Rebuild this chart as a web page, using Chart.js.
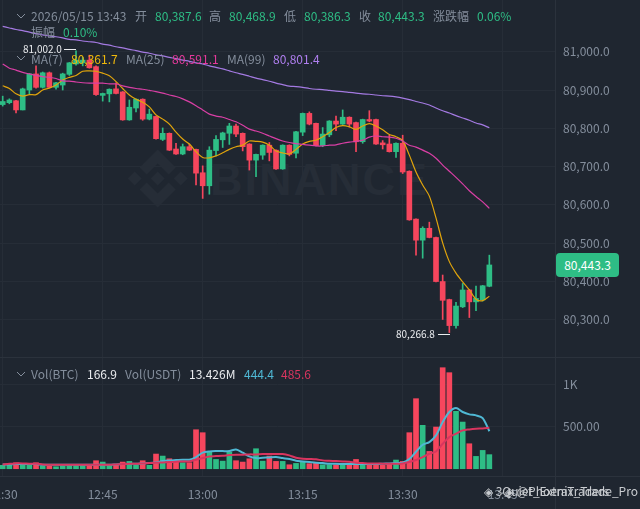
<!DOCTYPE html>
<html>
<head>
<meta charset="utf-8">
<script src="https://cdn.jsdelivr.net/npm/chart.js@4/dist/chart.umd.js"></script>
<style>
html, body { margin: 0; padding: 0; background: #1f2630; overflow: hidden; }
#page { position: relative; width: 640px; height: 509px; overflow: hidden; font-family: "Noto Sans CJK SC", "Noto Sans", sans-serif; }
canvas { position: absolute; left: 0; }
#mainChart { top: 0; }
#volChart { top: 358px; }
.t { position: absolute; font-size: 12px; line-height: 18px; white-space: nowrap; color: #848e9c; }
.line { position: absolute; background: #2b323c; }
.dash { position: absolute; height: 1px; background: #eaecef; }
</style>
</head>
<body>
<div id="page">
  <svg width="640" height="509" style="position:absolute;left:0;top:0">
    <g fill="#262d37" transform="translate(157.7 178.5)">
      <polygon points="0,-29 18,-11 11,-4 0,-15 -11,-4 -18,-11"/>
      <polygon points="0,29 18,11 11,4 0,15 -11,4 -18,11"/>
      <polygon points="0,-7 7,0 0,7 -7,0"/>
      <polygon points="-23,-7 -16,0 -23,7 -30,0"/>
      <polygon points="23,-7 30,0 23,7 16,0"/>
    </g>
    <text x="210" y="195" fill="#262d37" font-family="Liberation Sans" font-weight="bold" font-size="45" textLength="217" lengthAdjust="spacing">BINANCE</text>
  </svg>
  <canvas id="mainChart" width="640" height="357"></canvas>
  <canvas id="volChart" width="640" height="151"></canvas>
  <div class="line" style="left:0;top:357px;width:640px;height:1px"></div>
  <div class="line" style="left:0;top:476px;width:640px;height:1px"></div>
  <div class="line" style="left:555px;top:0;width:1px;height:509px"></div>
  <div id="labels"></div>
</div>
<script>
const opens = [
    80862, 80867, 80872, 80848, 80900, 80942, 80907, 80945, 80907, 80913,
    80941, 80968, 80971, 80978, 80961, 80886, 80890, 80903, 80895, 80822,
    80853, 80876, 80824, 80831, 80771, 80787, 80746, 80733, 80752, 80745,
    80684, 80650, 80742, 80770, 80787, 80806, 80787, 80759, 80717, 80730,
    80756, 80743, 80694, 80756, 80735, 80790, 80839, 80813, 80755, 80783,
    80819, 80811, 80829, 80815, 80765, 80823, 80823, 80762, 80759, 80739,
    80761, 80688, 80563, 80508, 80539, 80515, 80400, 80353, 80285, 80334,
    80378, 80347, 80352, 80387.6
];
const highs = [
    80884, 80877, 80873, 80905, 80943, 80963, 80947, 80947, 80920, 80944,
    80972, 81002, 80985, 80991, 80963, 80892, 80903, 80919, 80896, 80874,
    80877, 80877, 80850, 80832, 80801, 80788, 80761, 80759, 80759, 80746,
    80702, 80752, 80781, 80790, 80813, 80811, 80788, 80760, 80733, 80757,
    80763, 80744, 80757, 80757, 80792, 80840, 80843, 80814, 80802, 80820,
    80832, 80848, 80830, 80816, 80824, 80846, 80824, 80768, 80782, 80762,
    80782, 80689, 80564, 80543, 80555, 80516, 80417, 80354, 80346, 80395,
    80379, 80388, 80390, 80468.9
];
const lows = [
    80858, 80864, 80840, 80848, 80890, 80905, 80905, 80906, 80902, 80900,
    80938, 80965, 80963, 80957, 80886, 80871, 80869, 80890, 80821, 80821,
    80843, 80821, 80822, 80772, 80768, 80742, 80732, 80731, 80742, 80652,
    80617, 80628, 80728, 80750, 80758, 80778, 80741, 80691, 80674, 80719,
    80715, 80693, 80693, 80728, 80723, 80781, 80809, 80754, 80752, 80778,
    80794, 80810, 80803, 80739, 80761, 80817, 80758, 80746, 80738, 80724,
    80682, 80560, 80469, 80461, 80514, 80399, 80301, 80266.8, 80278, 80332,
    80306, 80324, 80349, 80386.3
];
const closes = [
    80870, 80874, 80848, 80903, 80942, 80907, 80945, 80907, 80919, 80942,
    80971, 80978, 80978, 80958, 80888, 80891, 80902, 80891, 80822, 80855,
    80876, 80824, 80837, 80773, 80787, 80743, 80733, 80752, 80743, 80683,
    80650, 80743, 80771, 80788, 80806, 80785, 80752, 80717, 80732, 80756,
    80737, 80694, 80756, 80732, 80791, 80839, 80811, 80755, 80785, 80819,
    80811, 80829, 80811, 80765, 80823, 80819, 80759, 80757, 80739, 80761,
    80686, 80561, 80508, 80539, 80515, 80400, 80351, 80285, 80336, 80378,
    80347, 80356, 80389, 80443.3
];
const ma7 = [
    80911, 80904, 80890, 80884, 80888, 80888, 80900, 80905, 80913, 80926,
    80933, 80938, 80949, 80950, 80949, 80944, 80937, 80922, 80904, 80887,
    80876, 80868, 80856, 80835, 80824, 80811, 80790, 80772, 80759, 80739,
    80724, 80723, 80728, 80736, 80745, 80752, 80756, 80767, 80766, 80764,
    80756, 80741, 80736, 80733, 80745, 80759, 80766, 80769, 80778, 80789,
    80802, 80807, 80804, 80797, 80806, 80812, 80806, 80796, 80784, 80778,
    80768, 80730, 80686, 80652, 80623, 80566, 80501, 80452, 80422, 80399,
    80378, 80354, 80350, 80361.7
];
const ma25 = [
    80968, 80957, 80952, 80946, 80942, 80938, 80935, 80933, 80930, 80924,
    80923, 80921, 80919, 80918, 80918, 80918, 80916, 80916, 80911, 80907,
    80904, 80902, 80899, 80896, 80892, 80887, 80883, 80877, 80869, 80859,
    80848, 80837, 80832, 80829, 80823, 80817, 80808, 80798, 80793, 80787,
    80780, 80773, 80767, 80763, 80760, 80758, 80756, 80754, 80754, 80756,
    80757, 80761, 80764, 80766, 80769, 80777, 80780, 80778, 80777, 80774,
    80767, 80756, 80751, 80743, 80735, 80722, 80704, 80688, 80672, 80655,
    80637, 80622, 80608, 80591.1
];
const ma99 = [
    81066, 81062, 81058, 81055, 81051, 81047, 81044, 81041, 81039, 81036,
    81032, 81031, 81028, 81026, 81024, 81020, 81017, 81013, 81010, 81006,
    81003, 80999, 80996, 80992, 80989, 80985, 80982, 80978, 80975, 80971,
    80968, 80963, 80959, 80955, 80950, 80945, 80941, 80936, 80931, 80927,
    80923, 80918, 80914, 80910, 80909, 80907, 80904, 80902, 80901, 80899,
    80897, 80896, 80894, 80892, 80890, 80889, 80887, 80885, 80884, 80882,
    80879, 80875, 80870, 80866, 80861, 80853, 80846, 80840, 80833, 80827,
    80821, 80814, 80809, 80801.4
];
const volumes = [
    40, 40, 71, 40, 40, 71, 32, 32, 24, 32,
    40, 40, 40, 40, 95, 79, 40, 47, 79, 87,
    40, 95, 40, 174, 150, 118, 100, 71, 71, 462,
    427, 198, 110, 90, 198, 95, 79, 118, 237, 90,
    150, 87, 87, 47, 63, 79, 60, 71, 47, 47,
    47, 55, 47, 110, 47, 47, 47, 40, 55, 103,
    87, 427, 830, 514, 205, 494, 1197, 1138, 680, 553,
    296, 146, 217, 166.9
];
const volMa7 = [
    51, 51, 55, 55, 55, 55, 47, 47, 47, 47,
    47, 47, 47, 47, 47, 47, 47, 51, 55, 59,
    59, 63, 67, 75, 91, 99, 103, 107, 107, 138,
    190, 205, 209, 209, 209, 229, 190, 146, 126, 130,
    134, 138, 126, 115, 95, 87, 79, 71, 67, 59,
    59, 55, 55, 55, 55, 55, 55, 59, 63, 67,
    71, 115, 201, 284, 316, 395, 553, 672, 719, 672,
    644, 632, 600, 444.4
];
const volMa25 = [
    51, 59, 63, 63, 59, 59, 51, 47, 47, 47,
    47, 47, 47, 47, 47, 47, 47, 51, 55, 59,
    59, 63, 67, 71, 75, 79, 83, 87, 87, 107,
    126, 146, 150, 154, 162, 166, 166, 170, 170, 174,
    174, 174, 174, 158, 130, 118, 115, 111, 99, 95,
    91, 87, 83, 71, 67, 63, 63, 59, 59, 59,
    63, 79, 103, 138, 178, 205, 296, 375, 415, 454,
    466, 474, 478, 485.6
];
const priceTicks = [81000, 80900, 80800, 80700, 80600, 80500, 80400, 80300];
const volTicks = [500, 1000];
const volTickLabels = ['500.00', '1K'];
const timeTicks = [0, 15, 30, 45, 60, 75];
const timeTickLabels = ['12:30', '12:45', '13:00', '13:15', '13:30', '13:45'];

const GREEN = '#2ebd85';
const RED = '#f6465d';
const GRID = '#262d37';
const AXIS_TEXT = '#848e9c';
const FONT = '"Noto Sans CJK SC", "Noto Sans", sans-serif';

const minutes = opens.map((_, i) => i);
const candleColor = ctx => closes[ctx.dataIndex] >= opens[ctx.dataIndex] ? GREEN : RED;
const toPoints = pairs => pairs.map((y, i) => ({ x: i, y }));

function lineSet(values, color, width) {
    return {
        type: 'line',
        data: toPoints(values),
        borderColor: color,
        borderWidth: width,
        pointRadius: 0,
        tension: 0.3,
        order: 0
    };
}

function xScale(showLabels) {
    return {
        type: 'linear',
        offset: false,
        min: -0.405,
        max: 82.85,
        afterBuildTicks: scale => { scale.ticks = timeTicks.map(value => ({ value })); },
        afterFit: scale => {
            scale.height = showLabels ? 32 : 0;
            scale.paddingLeft = 0;
            scale.paddingRight = 0;
        },
        grid: { color: GRID, drawTicks: false, offset: false },
        border: { display: false },
        ticks: {
            display: showLabels,
            autoSkip: false,
            maxRotation: 0,
            padding: 10,
            color: AXIS_TEXT,
            font: { family: FONT, size: 12 },
            callback: value => timeTickLabels[timeTicks.indexOf(value)]
        }
    };
}

function yScale(min, max, ticks, format) {
    return {
        type: 'linear',
        position: 'right',
        min,
        max,
        afterBuildTicks: scale => { scale.ticks = ticks.map(value => ({ value })); },
        afterFit: scale => {
            scale.width = 85;
            scale.paddingTop = 0;
            scale.paddingBottom = 0;
        },
        grid: { color: GRID, drawTicks: false },
        border: { display: false },
        ticks: {
            padding: 8,
            color: AXIS_TEXT,
            font: { family: FONT, size: 12 },
            callback: format
        }
    };
}

const commonOptions = {
    responsive: false,
    animation: false,
    layout: { padding: 0 },
    plugins: { legend: { display: false }, tooltip: { enabled: false } }
};

// Precio: mecha y cuerpo son dos barras flotantes superpuestas
new Chart(document.getElementById('mainChart'), {
    type: 'bar',
    data: {
        labels: minutes,
        datasets: [
            lineSet(ma99, '#a47ae2', 1.2),
            lineSet(ma25, '#d93fa5', 1.2),
            lineSet(ma7, '#e0a40c', 1.2),
            {
                data: minutes.map(i => ({ x: i, y: [opens[i], closes[i]] })),
                backgroundColor: candleColor,
                barThickness: 5,
                grouped: false,
                order: 1
            },
            {
                data: minutes.map(i => ({ x: i, y: [lows[i], highs[i]] })),
                backgroundColor: candleColor,
                barThickness: 1,
                grouped: false,
                order: 2
            }
        ]
    },
    options: {
        ...commonOptions,
        scales: {
            x: xScale(false),
            y: yScale(80203, 81135, priceTicks, value => value.toLocaleString('en-US', { minimumFractionDigits: 1 }))
        }
    }
});

// Volumen
new Chart(document.getElementById('volChart'), {
    type: 'bar',
    data: {
        labels: minutes,
        datasets: [
            lineSet(volMa25, '#d9355f', 2),
            lineSet(volMa7, '#4fb8d4', 2),
            {
                data: toPoints(volumes),
                backgroundColor: candleColor,
                barThickness: 5,
                grouped: false,
                order: 1
            }
        ]
    },
    options: {
        ...commonOptions,
        scales: {
            x: xScale(true),
            y: yScale(-98, 1312, volTicks, value => volTickLabels[volTicks.indexOf(value)])
        }
    }
});

// Cabeceras y etiquetas
const WHITE = '#eaecef';
const headerTexts = [
    [31, 16, '2026/05/15 13:43'], [135, 16, '开'], [155, 16, '80,387.6', GREEN], [209, 16, '高'], [229, 16, '80,468.9', GREEN],
    [284, 16, '低'], [304, 16, '80,386.3', GREEN], [359, 16, '收'], [378, 16, '80,443.3', GREEN], [433, 16, '涨跌幅'], [477, 16, '0.06%', GREEN],
    [31, 32, '振幅'], [63, 32, '0.10%', GREEN],
    [31, 59, 'MA(7)'], [71, 59, '80,361.7', '#f0b90b'], [126, 59, 'MA(25)'], [172, 59, '80,591.1', '#e6399b'], [227, 59, 'MA(99)'], [273, 59, '80,801.4', '#b07ff0'],
    [31, 374, 'Vol(BTC)'], [87, 374, '166.9', WHITE], [125, 374, 'Vol(USDT)'], [189, 374, '13.426M', WHITE], [244, 374, '444.4', '#4fb8d4'], [281, 374, '485.6', '#d9355f'],
    [484, 491, '◈ 3Quiet_ExtraTraders', '#c9ccd0'], [505, 491, '◈ @Phoenix_Trade_Pro', '#c9ccd0']
];
const labels = document.getElementById('labels');
headerTexts.forEach(([x, y, text, color]) => {
    const el = document.createElement('div');
    el.className = 't';
    el.style.left = x + 'px';
    el.style.top = (y - 9) + 'px';
    if (color) el.style.color = color;
    el.textContent = text;
    labels.appendChild(el);
});

[[23, 49, '81,002.0', 64], [396, 334, '80,266.8', 438]].forEach(([x, y, text, dashX]) => {
    const el = document.createElement('div');
    el.className = 't';
    el.style.left = x + 'px';
    el.style.top = (y - 9) + 'px';
    el.style.fontSize = '10px';
    el.style.color = WHITE;
    el.textContent = text;
    labels.appendChild(el);
    const dash = document.createElement('div');
    dash.className = 'dash';
    dash.style.left = dashX + 'px';
    dash.style.top = y + 'px';
    dash.style.width = '12px';
    labels.appendChild(dash);
});

[[21, 17], [21, 59], [21, 375]].forEach(([x, y]) => {
    const svg = document.createElementNS('http://www.w3.org/2000/svg', 'svg');
    svg.setAttribute('width', '12');
    svg.setAttribute('height', '8');
    svg.style.cssText = `position:absolute;left:${x - 6}px;top:${y - 4}px`;
    svg.innerHTML = '<polyline points="2,1 6,5 10,1" fill="none" stroke="#848e9c" stroke-width="1"/>';
    labels.appendChild(svg);
});

const pill = document.createElement('div');
pill.className = 't';
pill.style.cssText = `left:556px;top:253px;width:63px;height:24px;line-height:24px;text-align:center;background:${GREEN};border-radius:4px;color:#fff`;
pill.textContent = closes[closes.length - 1].toLocaleString('en-US', { minimumFractionDigits: 1 });
labels.appendChild(pill);
</script>
</body>
</html>
